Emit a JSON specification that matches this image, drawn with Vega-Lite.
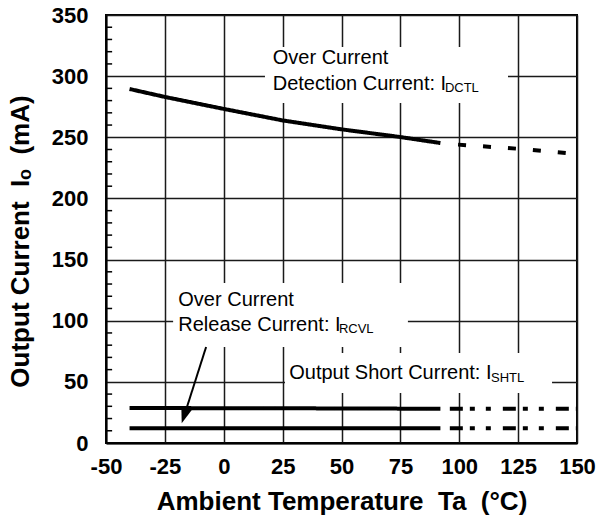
{
  "$schema": "https://vega.github.io/schema/vega-lite/v6.json",
  "width": 471,
  "height": 428,
  "autosize": {"type": "none"},
  "padding": {"left": 106, "top": 15, "right": 35, "bottom": 81},
  "background": "white",
  "config": {
    "view": {"stroke": "#000", "strokeWidth": 2},
    "font": "Liberation Sans",
    "axis": {
      "domainColor": "#000",
      "domainWidth": 2,
      "gridColor": "#1a1a1a",
      "gridWidth": 1.5,
      "gridOpacity": 1,
      "labelFont": "Liberation Sans",
      "labelFontWeight": "bold",
      "labelFontSize": 22,
      "labelColor": "#000",
      "titleFont": "Liberation Sans",
      "titleFontWeight": "bold",
      "titleFontSize": 26,
      "titleColor": "#000"
    }
  },
  "datasets": {
    "boxes": [
      {"t": 17.5, "t2": 120.7, "i": 278, "i2": 323.8},
      {"t": -21.5, "t2": 78.2, "i": 78.5, "i2": 130.8},
      {"t": 26, "t2": 139.4, "i": 40.9, "i2": 73.6}
    ],
    "minor": [
      {"i": 10}, {"i": 20}, {"i": 30}, {"i": 40},
      {"i": 60}, {"i": 70}, {"i": 80}, {"i": 90},
      {"i": 110}, {"i": 120}, {"i": 130}, {"i": 140},
      {"i": 160}, {"i": 170}, {"i": 180}, {"i": 190},
      {"i": 210}, {"i": 220}, {"i": 230}, {"i": 240},
      {"i": 260}, {"i": 270}, {"i": 280}, {"i": 290},
      {"i": 310}, {"i": 320}, {"i": 330}, {"i": 340}
    ],
    "curves": [
      {"key": "DCTL-solid", "style": "solid", "t": -40, "i": 289.5},
      {"key": "DCTL-solid", "style": "solid", "t": -25, "i": 283},
      {"key": "DCTL-solid", "style": "solid", "t": 0, "i": 273.2},
      {"key": "DCTL-solid", "style": "solid", "t": 25, "i": 263.8},
      {"key": "DCTL-solid", "style": "solid", "t": 50, "i": 256.5},
      {"key": "DCTL-solid", "style": "solid", "t": 75, "i": 250.2},
      {"key": "DCTL-solid", "style": "solid", "t": 92, "i": 245.3},
      {"key": "DCTL-dash", "style": "dash", "t": 99.5, "i": 244},
      {"key": "DCTL-dash", "style": "dash", "t": 125, "i": 240.6},
      {"key": "DCTL-dash", "style": "dash", "t": 150, "i": 236.3},
      {"key": "SHTL-solid", "style": "solid", "t": -40, "i": 28.6},
      {"key": "SHTL-solid", "style": "solid", "t": 25, "i": 28.4},
      {"key": "SHTL-solid", "style": "solid", "t": 92, "i": 28},
      {"key": "SHTL-dot", "style": "dashdot", "t": 96, "i": 28},
      {"key": "SHTL-dot", "style": "dashdot", "t": 150, "i": 28},
      {"key": "RCVL-solid", "style": "solid", "t": -40, "i": 12},
      {"key": "RCVL-solid", "style": "solid", "t": 92, "i": 12},
      {"key": "RCVL-dot", "style": "dashdot", "t": 96, "i": 12},
      {"key": "RCVL-dot", "style": "dashdot", "t": 150, "i": 12}
    ],
    "arrow": [
      {"t": -7.5, "i": 78.5, "t2": -16.8, "i2": 22.3}
    ],
    "notes": [
      {"txt": "Over Current", "t": 20.8, "i": 309.9},
      {"txt": "Detection Current: I", "t": 20.8, "i": 288.7},
      {"txt": "Over Current", "t": -19.3, "i": 112},
      {"txt": "Release Current: I", "t": -19.3, "i": 91.8},
      {"txt": "Output Short Current: I", "t": 27.8, "i": 52.3}
    ],
    "subs": [
      {"txt": "DCTL", "t": 93.9, "i": 286.8},
      {"txt": "RCVL", "t": 48.9, "i": 89.7},
      {"txt": "SHTL", "t": 113.5, "i": 50.1}
    ]
  },
  "layer": [
    {
      "data": {"name": "boxes"},
      "mark": {"type": "rect", "fill": "white", "stroke": null},
      "encoding": {
        "x": {
          "field": "t", "type": "quantitative",
          "scale": {"domain": [-50, 150], "nice": false, "zero": false},
          "axis": {
            "values": [-50, -25, 0, 25, 50, 75, 100, 125, 150],
            "ticks": false,
            "labelFlush": false,
            "labelPadding": 13,
            "labelExpr": "'' + datum.value",
            "title": "Ambient Temperature\u00a0\u00a0Ta\u00a0\u00a0(°C)",
            "titlePadding": 11
          }
        },
        "x2": {"field": "t2"},
        "y": {
          "field": "i", "type": "quantitative",
          "scale": {"domain": [0, 350], "nice": false},
          "axis": {
            "values": [0, 50, 100, 150, 200, 250, 300, 350],
            "ticks": false,
            "labelPadding": 18,
            "title": "Output Current\u00a0\u00a0Iₒ\u00a0\u00a0(mA)",
            "titlePadding": 18,
            "titleY": 226
          }
        },
        "y2": {"field": "i2"}
      }
    },
    {
      "data": {"name": "minor"},
      "mark": {"type": "rule", "color": "#000", "strokeWidth": 1.5},
      "encoding": {
        "x": {"datum": -50, "type": "quantitative"},
        "x2": {"datum": -47.4},
        "y": {"field": "i", "type": "quantitative"}
      }
    },
    {
      "data": {"name": "curves"},
      "mark": {"type": "line", "color": "#000", "strokeWidth": 4, "strokeCap": "butt"},
      "encoding": {
        "x": {"field": "t", "type": "quantitative"},
        "y": {"field": "i", "type": "quantitative"},
        "detail": {"field": "key"},
        "strokeDash": {
          "field": "style", "type": "nominal",
          "scale": {"domain": ["solid", "dash", "dashdot"], "range": [[1, 0], [8, 17], [13, 7, 5, 11, 5, 12]]},
          "legend": null
        }
      }
    },
    {
      "data": {"name": "arrow"},
      "mark": {"type": "rule", "color": "#000", "strokeWidth": 2},
      "encoding": {
        "x": {"field": "t", "type": "quantitative"},
        "y": {"field": "i", "type": "quantitative"},
        "x2": {"field": "t2"},
        "y2": {"field": "i2"}
      }
    },
    {
      "data": {"name": "arrow"},
      "mark": {"type": "point", "shape": "M0,1L-0.7,-1L0.7,-1Z", "size": 256, "angle": 18, "filled": true, "color": "#000", "opacity": 1},
      "encoding": {
        "x": {"field": "t2", "type": "quantitative"},
        "y": {"field": "i2", "type": "quantitative"}
      }
    },
    {
      "data": {"name": "notes"},
      "mark": {"type": "text", "align": "left", "baseline": "alphabetic", "font": "Liberation Sans", "fontSize": 20, "color": "#000"},
      "encoding": {
        "x": {"field": "t", "type": "quantitative"},
        "y": {"field": "i", "type": "quantitative"},
        "text": {"field": "txt"}
      }
    },
    {
      "data": {"name": "subs"},
      "mark": {"type": "text", "align": "left", "baseline": "alphabetic", "font": "Liberation Sans", "fontSize": 13, "color": "#000"},
      "encoding": {
        "x": {"field": "t", "type": "quantitative"},
        "y": {"field": "i", "type": "quantitative"},
        "text": {"field": "txt"}
      }
    }
  ]
}
